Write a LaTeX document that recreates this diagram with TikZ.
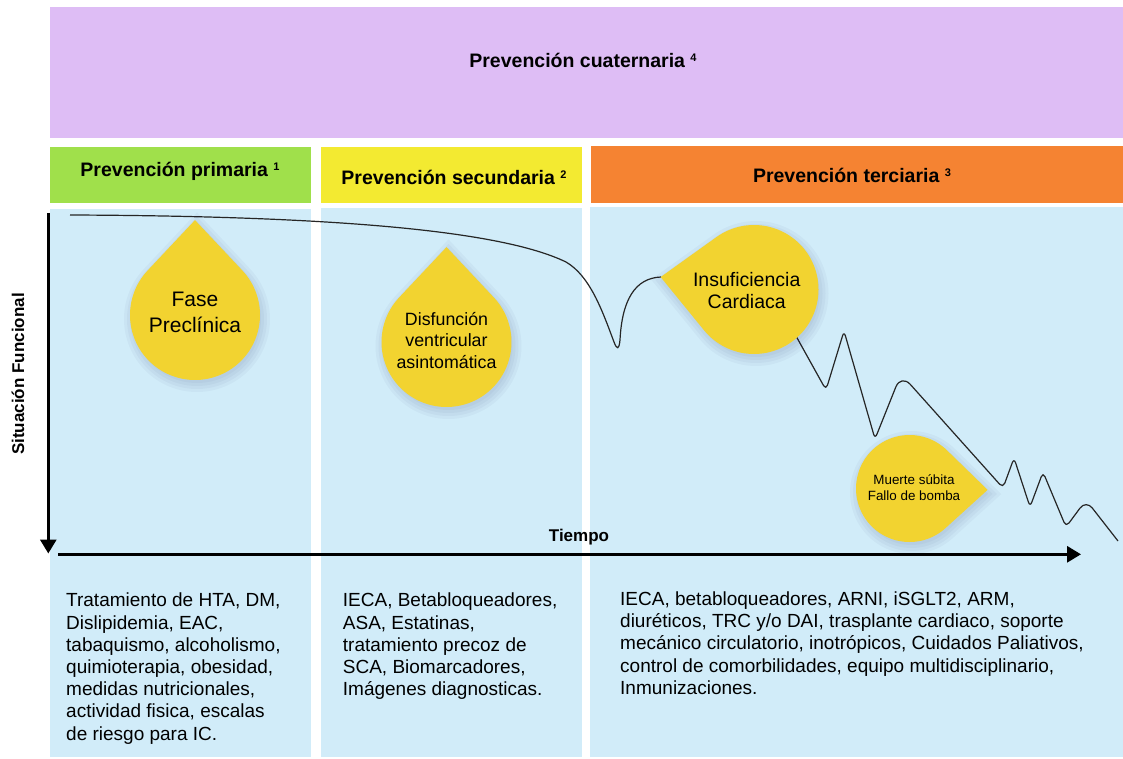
\documentclass[tikz,border=0pt]{standalone}
\usepackage{fontspec}
\setmainfont{Liberation Sans}
\usetikzlibrary{arrows.meta}
\definecolor{cpurple}{HTML}{DEBDF5}
\definecolor{cgreen}{HTML}{A0E04B}
\definecolor{cyellow}{HTML}{F3EA31}
\definecolor{corange}{HTML}{F58332}
\definecolor{cblue}{HTML}{D1ECF9}
\definecolor{cdrop}{HTML}{F2D330}
\newcommand\supnum[1]{\raisebox{6.2pt}{\fontsize{11}{11}\selectfont #1}}
\tikzset{
  hdr/.style={font=\bfseries\fontsize{19.5}{23}\selectfont, inner sep=0pt, anchor=base},
  bodytxt/.style={font=\fontsize{19}{22.2}\selectfont, align=left, anchor=north west, inner sep=0pt},
  axisline/.style={line width=3pt, -{Triangle[length=14pt,width=16pt]}},
  curveline/.style={line width=1.2pt, draw=black!85, line join=round},
  droptxt/.style={align=center, inner sep=0pt},
  dropfill/.style={fill=cdrop, draw=none},
  dropshadow/.style={fill=black!70!blue, fill opacity=0.03, draw=none},
}
% #1 cx, #2 cy, #3 r, #4 tip angle, #5 style
\newcommand\dropshape[5]{%
  \path[#5] ({#1+1.46*(#3)*cos(#4)},{#2+1.46*(#3)*sin(#4)})
    -- plot[domain={#4+46.8}:{#4+313.2}, samples=90, variable=\t]
       ({#1+(#3)*cos(\t)},{#2+(#3)*sin(\t)}) -- cycle;}
\newcommand\dropwithshadow[4]{%
  \foreach \dd in {3,6,9,12}{\dropshape{#1+2}{#2+4}{#3+\dd-4}{#4}{dropshadow}}%
  \dropshape{#1}{#2}{#3}{#4}{dropfill}}
\begin{document}
\begin{tikzpicture}[x=1pt,y=-1pt]
\useasboundingbox (0,0) rectangle (1123,759);
\fill[white] (0,0) rectangle (1123,759);
% header bands
\fill[cpurple] (50,7.5) rectangle (1123,138);
\fill[cgreen] (50,147) rectangle (311,203);
\fill[cyellow] (321,147) rectangle (581.5,203);
\fill[corange] (590.5,146) rectangle (1123,203);
% blue columns
\fill[cblue] (50,209) rectangle (311,757);
\fill[cblue] (321,208) rectangle (582,757);
\fill[cblue] (590,207) rectangle (1123,757);
% header texts
\node[hdr] (hq) at (583,68) {Prevención cuaternaria \supnum{4}};
\node[hdr] (hp) at (180,177) {Prevención primaria \supnum{1}};
\node[hdr] (hs) at (454,185) {Prevención secundaria \supnum{2}};
\node[hdr] (ht) at (852,182.7) {Prevención terciaria \supnum{3}};
% curve
\draw[curveline] (70,215) .. controls (330,216) and (500,230) .. (566,262)
  .. controls (590,276) and (602,310) .. (614,342)
  .. controls (617,350) and (619,350) .. (620,340)
  .. controls (622,300) and (635,278) .. (661,277);
\draw[curveline, rounded corners=5pt] (796,336) -- (826,390) -- (844,331) -- (875,439)
  [rounded corners=14pt] -- (901,374) [rounded corners=5pt] -- (1003,488) -- (1014,458)
  -- (1030,507) -- (1043,472) -- (1066,527) [rounded corners=10pt] -- (1086,500) -- (1118,541);
% drops
\dropwithshadow{195}{315}{65}{-90}
\dropwithshadow{446.5}{342}{65}{-90}
\dropwithshadow{754}{289.5}{64.5}{187.6}
\dropwithshadow{909.5}{488.5}{53.5}{1}
\node[droptxt, font=\fontsize{21}{25.5}\selectfont] (d1) at (195,312.5) {Fase\\Preclínica};
\node[droptxt, font=\fontsize{17.8}{21.4}\selectfont] (d2) at (446.5,340.5) {Disfunción\\ventricular\\asintomática};
\node[droptxt, font=\fontsize{19.5}{22.4}\selectfont] (d3) at (746.7,290.5) {Insuficiencia\\Cardiaca};
\node[droptxt, font=\fontsize{13.4}{16.4}\selectfont] (d4) at (914,487.5) {Muerte súbita\\Fallo de bomba};
% axes
\coordinate (ytop) at (48.3,213);
\coordinate (ybot) at (48.3,553.5);
\coordinate (xl) at (58.3,554.3);
\coordinate (xr) at (1081,554.3);
\draw[axisline] (ytop) -- (ybot);
\draw[axisline] (xl) -- (xr);
\node[font=\bfseries\fontsize{17}{20}\selectfont, anchor=base, inner sep=0pt] (tiempo) at (579,541.5) {Tiempo};
\node[font=\bfseries\fontsize{17}{20}\selectfont, rotate=90, inner sep=0pt] (sitf) at (18,374) {Situación Funcional};
% body texts
\node[bodytxt] (t1) at (66,593) {Tratamiento de HTA, DM,\\Dislipidemia, EAC,\\tabaquismo, alcoholismo,\\quimioterapia, obesidad,\\medidas nutricionales,\\actividad fisica, escalas\\de riesgo para IC.};
\node[bodytxt] (t2) at (342.7,593) {IECA, Betabloqueadores,\\ASA, Estatinas,\\tratamiento precoz de\\SCA, Biomarcadores,\\Imágenes diagnosticas.};
\node[bodytxt] (t3) at (620,591.5) {IECA, betabloqueadores, ARNI, iSGLT2, ARM,\\diuréticos, TRC y/o DAI, trasplante cardiaco, soporte\\mecánico circulatorio, inotrópicos, Cuidados Paliativos,\\control de comorbilidades, equipo multidisciplinario,\\Inmunizaciones.};
\end{tikzpicture}
\end{document}
